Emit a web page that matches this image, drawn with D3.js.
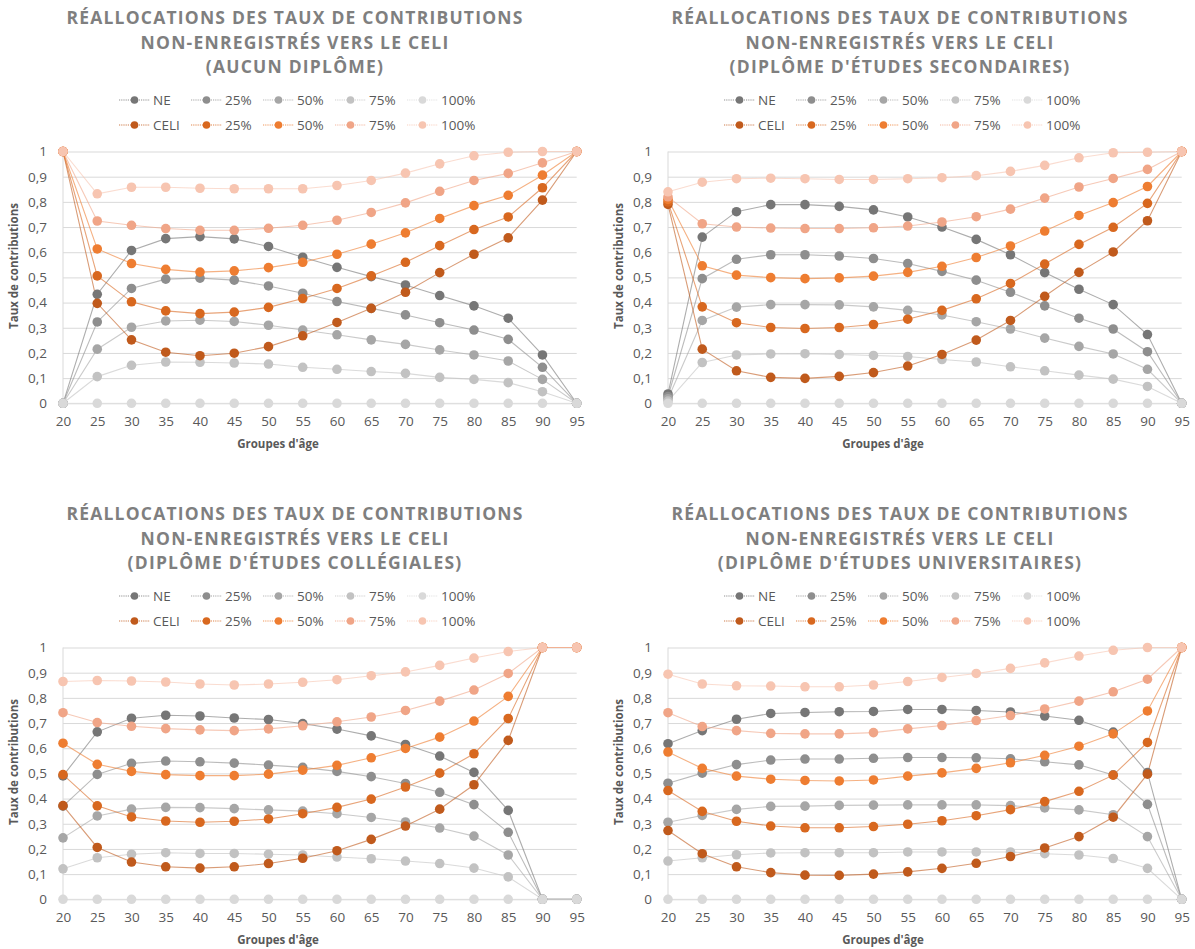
<!DOCTYPE html>
<html lang="fr">
<head>
<meta charset="utf-8">
<script src="https://cdn.jsdelivr.net/npm/d3@7"></script>
<style>
  html, body { margin: 0; padding: 0; background: #ffffff; }
  svg { display: block; font-family: "Open Sans", "Liberation Sans", sans-serif; }
</style>
</head>
<body>
<svg id="chart" width="1195" height="949"></svg>
<script>
// Groupes d'âge (axe horizontal)
const ages = [20, 25, 30, 35, 40, 45, 50, 55, 60, 65, 70, 75, 80, 85, 90, 95];
const yTicks = [0, 0.1, 0.2, 0.3, 0.4, 0.5, 0.6, 0.7, 0.8, 0.9, 1];
const yTickLabels = ["0", "0,1", "0,2", "0,3", "0,4", "0,5", "0,6", "0,7", "0,8", "0,9", "1"];

const labelsNE = ["NE", "25%", "50%", "75%", "100%"];
const labelsCELI = ["CELI", "25%", "50%", "75%", "100%"];

const titleLine1 = "RÉALLOCATIONS DES TAUX DE CONTRIBUTIONS";
const titleLine2 = "NON-ENREGISTRÉS VERS LE CELI";
const subtitles = ["(AUCUN DIPLÔME)", "(DIPLÔME D'ÉTUDES SECONDAIRES)",
                   "(DIPLÔME D'ÉTUDES COLLÉGIALES)", "(DIPLÔME D'ÉTUDES UNIVERSITAIRES)"];

// Aucun diplôme : non-enregistré (NE, 25 %, 50 %, 75 %, 100 %)
const aucunNE = [
  [0, 0.433, 0.607, 0.654, 0.662, 0.653, 0.623, 0.58, 0.54, 0.503, 0.47, 0.428, 0.387, 0.338, 0.192, 0],
  [0, 0.323, 0.456, 0.493, 0.497, 0.489, 0.466, 0.437, 0.404, 0.377, 0.351, 0.32, 0.291, 0.254, 0.143, 0],
  [0, 0.215, 0.302, 0.327, 0.33, 0.325, 0.31, 0.291, 0.272, 0.252, 0.234, 0.212, 0.192, 0.168, 0.095, 0],
  [0, 0.106, 0.151, 0.164, 0.163, 0.16, 0.156, 0.143, 0.135, 0.126, 0.119, 0.103, 0.095, 0.082, 0.046, 0],
  [0, 0, 0, 0, 0, 0, 0, 0, 0, 0, 0, 0, 0, 0, 0, 0]
];
// Aucun diplôme : CELI (CELI, 25 %, 50 %, 75 %, 100 %)
const aucunCELI = [
  [1, 0.397, 0.252, 0.203, 0.189, 0.199, 0.225, 0.268, 0.321, 0.377, 0.441, 0.519, 0.592, 0.657, 0.807, 1],
  [1, 0.506, 0.403, 0.367, 0.356, 0.362, 0.381, 0.416, 0.456, 0.506, 0.56, 0.626, 0.69, 0.74, 0.856, 1],
  [1, 0.613, 0.555, 0.532, 0.521, 0.526, 0.539, 0.56, 0.592, 0.632, 0.677, 0.734, 0.785, 0.826, 0.906, 1],
  [1, 0.724, 0.707, 0.694, 0.687, 0.687, 0.695, 0.707, 0.727, 0.758, 0.796, 0.842, 0.885, 0.913, 0.955, 1],
  [1, 0.832, 0.858, 0.858, 0.854, 0.852, 0.852, 0.852, 0.865, 0.885, 0.914, 0.951, 0.983, 0.997, 1, 1]
];

// Diplôme d'études secondaires
const secondairesNE = [
  [0.037, 0.66, 0.761, 0.789, 0.789, 0.782, 0.768, 0.74, 0.7, 0.651, 0.59, 0.519, 0.453, 0.392, 0.273, 0],
  [0.027, 0.495, 0.572, 0.59, 0.59, 0.585, 0.575, 0.555, 0.524, 0.489, 0.441, 0.387, 0.338, 0.295, 0.205, 0],
  [0.018, 0.329, 0.382, 0.392, 0.392, 0.391, 0.383, 0.369, 0.351, 0.324, 0.295, 0.259, 0.226, 0.196, 0.135, 0],
  [0.009, 0.162, 0.192, 0.196, 0.197, 0.194, 0.19, 0.186, 0.174, 0.164, 0.145, 0.129, 0.112, 0.096, 0.067, 0],
  [0, 0, 0, 0, 0, 0, 0, 0, 0, 0, 0, 0, 0, 0, 0, 0]
];
const secondairesCELI = [
  [0.79, 0.215, 0.129, 0.103, 0.099, 0.107, 0.122, 0.148, 0.194, 0.251, 0.329, 0.425, 0.52, 0.601, 0.725, 1],
  [0.80, 0.383, 0.32, 0.301, 0.297, 0.301, 0.313, 0.334, 0.369, 0.415, 0.476, 0.553, 0.631, 0.699, 0.794, 1],
  [0.81, 0.546, 0.509, 0.499, 0.495, 0.498, 0.505, 0.52, 0.544, 0.579, 0.625, 0.684, 0.746, 0.797, 0.861, 1],
  [0.82, 0.713, 0.7, 0.696, 0.694, 0.694, 0.697, 0.704, 0.72, 0.741, 0.771, 0.815, 0.859, 0.893, 0.929, 1],
  [0.84, 0.878, 0.892, 0.894, 0.892, 0.889, 0.889, 0.892, 0.896, 0.904, 0.921, 0.945, 0.975, 0.995, 0.997, 1]
];

// Diplôme d'études collégiales
const collegialesNE = [
  [0.49, 0.665, 0.719, 0.731, 0.728, 0.72, 0.714, 0.698, 0.676, 0.649, 0.615, 0.569, 0.504, 0.353, 0, 0],
  [0.37, 0.496, 0.54, 0.549, 0.546, 0.541, 0.533, 0.524, 0.508, 0.487, 0.46, 0.425, 0.376, 0.266, 0, 0],
  [0.244, 0.331, 0.358, 0.365, 0.364, 0.36, 0.355, 0.35, 0.34, 0.325, 0.307, 0.283, 0.251, 0.176, 0, 0],
  [0.121, 0.165, 0.179, 0.185, 0.182, 0.182, 0.179, 0.176, 0.168, 0.161, 0.152, 0.142, 0.124, 0.089, 0, 0],
  [0, 0, 0, 0, 0, 0, 0, 0, 0, 0, 0, 0, 0, 0, 0, 0]
];
const collegialesCELI = [
  [0.372, 0.206, 0.148, 0.129, 0.124, 0.129, 0.142, 0.163, 0.193, 0.238, 0.291, 0.358, 0.455, 0.631, 1, 1],
  [0.495, 0.371, 0.327, 0.311, 0.306, 0.31, 0.319, 0.34, 0.365, 0.398, 0.446, 0.501, 0.578, 0.718, 1, 1],
  [0.62, 0.536, 0.508, 0.495, 0.491, 0.491, 0.497, 0.513, 0.532, 0.562, 0.599, 0.644, 0.708, 0.806, 1, 1],
  [0.741, 0.702, 0.687, 0.678, 0.673, 0.67, 0.677, 0.689, 0.705, 0.724, 0.75, 0.787, 0.831, 0.897, 1, 1],
  [0.865, 0.869, 0.867, 0.863, 0.855, 0.851, 0.855, 0.862, 0.872, 0.888, 0.903, 0.929, 0.958, 0.984, 1, 1]
];

// Diplôme d'études universitaires
const universitairesNE = [
  [0.618, 0.67, 0.715, 0.738, 0.742, 0.745, 0.746, 0.754, 0.754, 0.75, 0.744, 0.728, 0.711, 0.664, 0.503, 0],
  [0.461, 0.501, 0.535, 0.553, 0.557, 0.557, 0.56, 0.563, 0.563, 0.562, 0.558, 0.546, 0.534, 0.494, 0.377, 0],
  [0.306, 0.333, 0.357, 0.369, 0.37, 0.373, 0.374, 0.375, 0.375, 0.375, 0.372, 0.363, 0.355, 0.336, 0.249, 0],
  [0.152, 0.165, 0.177, 0.184, 0.185, 0.185, 0.185, 0.188, 0.188, 0.188, 0.188, 0.181, 0.176, 0.162, 0.123, 0],
  [0, 0, 0, 0, 0, 0, 0, 0, 0, 0, 0, 0, 0, 0, 0, 0]
];
const universitairesCELI = [
  [0.273, 0.181, 0.129, 0.106, 0.096, 0.095, 0.1, 0.109, 0.123, 0.143, 0.17, 0.204, 0.249, 0.326, 0.497, 1],
  [0.432, 0.349, 0.31, 0.291, 0.284, 0.284, 0.289, 0.298, 0.312, 0.332, 0.356, 0.388, 0.429, 0.493, 0.623, 1],
  [0.585, 0.52, 0.489, 0.477, 0.472, 0.47, 0.474, 0.489, 0.502, 0.52, 0.542, 0.572, 0.608, 0.657, 0.748, 1],
  [0.741, 0.686, 0.67, 0.659, 0.657, 0.657, 0.662, 0.677, 0.69, 0.71, 0.73, 0.756, 0.787, 0.824, 0.874, 1],
  [0.894, 0.855, 0.848, 0.847, 0.844, 0.844, 0.851, 0.865, 0.881, 0.897, 0.917, 0.939, 0.966, 0.989, 1, 1]
];

// Palettes des séries
const greys = ["#767676", "#8e8e8e", "#a6a6a6", "#c2c2c2", "#d9d9d9"];
const oranges = ["#c05a1c", "#d8681f", "#ee7d31", "#f0a587", "#f7c5b1"];

const panels = [
  { sub: subtitles[0], ne: aucunNE, celi: aucunCELI, dx: 0, dy: 0 },
  { sub: subtitles[1], ne: secondairesNE, celi: secondairesCELI, dx: 605, dy: 0 },
  { sub: subtitles[2], ne: collegialesNE, celi: collegialesCELI, dx: 0, dy: 496 },
  { sub: subtitles[3], ne: universitairesNE, celi: universitairesCELI, dx: 605, dy: 496 }
];

const svg = d3.select("#chart");
const textGrey = "#595959";

// Letter spacing of the title, fitted so the first line spans 456 px
const probe = svg.append("text").attr("font-size", 17.5).attr("font-weight", 700).text(titleLine1);
const natural = probe.node().getComputedTextLength();
probe.remove();
const titleSpacing = (456 - natural) / (titleLine1.length - 1);

panels.forEach(p => {
  const g = svg.append("g").attr("transform", `translate(${p.dx},${p.dy})`);

  const x = d3.scaleLinear().domain([20, 95]).range([63, 576.7]);
  const y = d3.scaleLinear().domain([0, 1]).range([403.3, 151.5]);

  // Titre
  const title = g.append("text")
    .attr("x", 295).attr("text-anchor", "middle")
    .attr("font-size", 17.5).attr("font-weight", 700)
    .attr("fill", "#7f7f7f")
    .style("letter-spacing", titleSpacing + "px");
  [titleLine1, titleLine2, p.sub].forEach((t, i) => {
    title.append("tspan").attr("x", 295).attr("y", 24 + i * 24.5).text(t);
  });

  // Légende (deux rangées)
  const legendRows = [
    { labels: labelsNE, colors: greys, cy: 100 },
    { labels: labelsCELI, colors: oranges, cy: 125 }
  ];
  legendRows.forEach(row => {
    row.labels.forEach((lab, i) => {
      const lx = 119 + i * 72;
      const item = g.append("g");
      item.append("line")
        .attr("x1", lx).attr("x2", lx + 31)
        .attr("y1", row.cy).attr("y2", row.cy)
        .attr("stroke", row.colors[i]).attr("stroke-width", 1)
        .attr("stroke-opacity", 0.8)
        .attr("stroke-dasharray", "1.2 1");
      item.append("circle")
        .attr("cx", lx + 15.5).attr("cy", row.cy).attr("r", 3.8)
        .attr("fill", row.colors[i]);
      item.append("text")
        .attr("x", lx + 34).attr("y", row.cy).attr("dy", "0.35em")
        .attr("font-size", 13.5).attr("fill", textGrey)
        .text(lab);
    });
  });

  // Axe vertical et quadrillage
  const yAxis = d3.axisLeft(y)
    .tickValues(yTicks)
    .tickFormat((d, i) => yTickLabels[i])
    .tickSizeInner(-(576.7 - 63))
    .tickSizeOuter(0)
    .tickPadding(16);
  const gy = g.append("g").attr("transform", "translate(63,0)").call(yAxis);
  gy.select(".domain").remove();
  gy.selectAll(".tick line").attr("stroke", "#d9d9d9").attr("stroke-width", 1);
  gy.selectAll(".tick text")
    .attr("fill", textGrey).attr("font-size", 13.5)
    .attr("font-family", "Open Sans, sans-serif");

  g.append("line")
    .attr("x1", 63).attr("x2", 63)
    .attr("y1", y(0)).attr("y2", y(1))
    .attr("stroke", "#d9d9d9").attr("stroke-width", 1);

  // Axe horizontal
  const xAxis = d3.axisBottom(x).tickValues(ages).tickSize(0).tickPadding(13);
  const gx = g.append("g").attr("transform", `translate(0,${y(0)})`).call(xAxis);
  gx.select(".domain").remove();
  gx.selectAll(".tick text")
    .attr("fill", textGrey).attr("font-size", 13.5)
    .attr("font-family", "Open Sans, sans-serif");

  // Titres des axes
  g.append("text")
    .attr("x", 278).attr("y", 448).attr("text-anchor", "middle")
    .attr("font-size", 11.5).attr("font-weight", 700).attr("fill", textGrey)
    .text("Groupes d'âge");
  g.append("text")
    .attr("transform", "translate(18,266) rotate(-90)")
    .attr("text-anchor", "middle")
    .attr("font-size", 11.5).attr("font-weight", 700).attr("fill", textGrey)
    .text("Taux de contributions");

  // Séries
  const line = d3.line().x((d, i) => x(ages[i])).y(d => y(d));
  const series = [
    ...p.ne.map((vals, i) => ({ vals, color: greys[i] })),
    ...p.celi.map((vals, i) => ({ vals, color: oranges[i] }))
  ];
  series.forEach(s => {
    g.append("path")
      .attr("d", line(s.vals))
      .attr("fill", "none")
      .attr("stroke", s.color)
      .attr("stroke-width", 1.1)
      .attr("stroke-opacity", 0.6);
  });
  series.forEach(s => {
    g.append("g").selectAll("circle")
      .data(s.vals)
      .join("circle")
      .attr("cx", (d, i) => x(ages[i]))
      .attr("cy", d => y(d))
      .attr("r", 4.8)
      .attr("fill", s.color);
  });
});
</script>
</body>
</html>
